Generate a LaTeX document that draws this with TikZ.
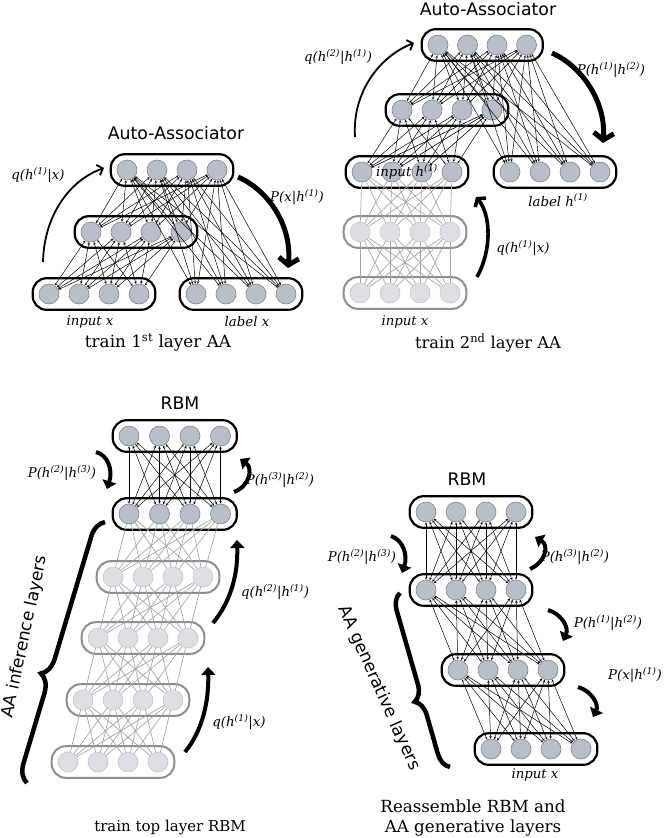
\documentclass[tikz,border=0pt]{standalone}
\usepackage{fontspec}
\setmainfont{DejaVu Serif}
\setsansfont{DejaVu Sans}
\usetikzlibrary{arrows.meta,fit,decorations.pathreplacing}
\definecolor{unitfill}{HTML}{B9BECB}
\definecolor{unitdraw}{HTML}{7F838C}
\definecolor{lunitfill}{HTML}{DDDFE5}
\definecolor{lunitdraw}{HTML}{C4C6CC}
\definecolor{lboxdraw}{HTML}{8E8E8E}
\definecolor{lconncol}{HTML}{A4A4A4}
\newcommand\upc[1]{\textsuperscript{(#1)}}
\newcommand\mklayer[6]{%
  \foreach \k in {1,...,4} {\node[#2] (#1\k) at ({#3+(\k-1)*#4},#5) {};}
  \node[#6, fit=(#11)(#14)] (#1box) {};
}
\newcommand\allconn[3]{%
  \foreach \i in {1,...,4} {\foreach \j in {1,...,4} {\draw[#3] (#1\i) -- (#2\j);}}
}
\begin{document}
\begin{tikzpicture}[x=1pt,y=-1pt,
  unit/.style={circle, minimum size=20pt, inner sep=0pt, fill=unitfill, draw=unitdraw, line width=0.6pt},
  lunit/.style={circle, minimum size=20pt, inner sep=0pt, fill=lunitfill, draw=lunitdraw, line width=0.6pt},
  layerbox/.style={draw=black, line width=2.2pt, rounded corners=14pt, inner xsep=6pt, inner ysep=5.5pt},
  llayerbox/.style={draw=lboxdraw, line width=2pt, rounded corners=14pt, inner xsep=6pt, inner ysep=5.5pt},
  conn/.style={black, line width=0.5pt, {Stealth[open,length=2.6pt,width=2.6pt]}-{Stealth[open,length=2.6pt,width=2.6pt]}},
  lconn/.style={lconncol, line width=0.65pt},
  thinarr/.style={line width=1.8pt, -{Straight Barb[length=5pt,width=11pt]}},
  thickarr/.style={line width=5pt, -{Straight Barb[length=7pt,width=20pt]}},
  midarr/.style={line width=3.6pt, -{Straight Barb[length=5pt,width=14pt]}},
  rbmarr/.style={line width=4pt, -{Triangle[length=8pt,width=14pt]}},
  bracest/.style={line width=4.5pt, decorate},
  title/.style={font=\sffamily\fontsize{17.3}{19}\selectfont},
  caption/.style={align=center},
  lab/.style={font=\fontsize{13.3}{15}\selectfont\itshape},
  side/.style={font=\sffamily\fontsize{17}{19}\selectfont}
]
\useasboundingbox (0,0) rectangle (664,838);
\fill[white] (0,0) rectangle (664,838);

% ---------------- Panel 1 ----------------
\mklayer{pat}{unit}{127}{30}{170}{layerbox}
\mklayer{pam}{unit}{91}{30}{232}{layerbox}
\mklayer{pai}{unit}{49}{30}{294}{layerbox}
\mklayer{pal}{unit}{196}{30}{294}{layerbox}
\allconn{pat}{pam}{conn}
\allconn{pam}{pai}{conn}
\allconn{pat}{pal}{conn}
\node[title] (t1) at (176,133) {Auto-Associator};
\node[lab] (l1a) at (90,322) {input x};
\node[lab] (l1b) at (247,322) {label x};
\node[caption, font=\fontsize{16.8}{19}\selectfont] (c1) at (158,342) {train 1\textsuperscript{st} layer AA};
\node[lab] (l1q) at (38,175) {q(h\upc{1}|x)};
\node[lab] (l1p) at (297,197) {P(x|h\upc{1})};
\coordinate (q1s) at (43,262); \coordinate (q1e) at (104,168);
\draw[thinarr] (q1s) .. controls (44,215) and (70,180) .. (q1e);
\coordinate (p1s) at (238,177); \coordinate (p1e) at (288,268);
\draw[thickarr] (p1s) .. controls (268,190) and (292,225) .. (p1e);

% ---------------- Panel 2 ----------------
\mklayer{pbt}{unit}{438}{29.5}{45}{layerbox}
\mklayer{pbm}{unit}{402}{30}{110}{layerbox}
\mklayer{pbi}{unit}{362}{30}{172}{layerbox}
\mklayer{pbl}{unit}{510}{30}{172}{layerbox}
\mklayer{pba}{lunit}{360}{30}{232}{llayerbox}
\mklayer{pbb}{lunit}{360}{30}{293}{llayerbox}
\allconn{pbi}{pba}{lconn}
\allconn{pba}{pbb}{lconn}
\foreach \i in {1,2,3} {\draw[lconn, line width=0.5pt] (pbi\i) -- (pbm4);}
\allconn{pbt}{pbm}{conn}
\allconn{pbm}{pbi}{conn}
\allconn{pbt}{pbl}{conn}
\node[title] (t2) at (488,9) {Auto-Associator};
\node[lab] (l2i) at (407,172) {input h\upc{1}};
\node[lab] (l2l) at (558,200) {label h\upc{1}};
\node[lab] (l2x) at (405,322) {input x};
\node[caption, font=\fontsize{16.3}{19}\selectfont] (c2) at (488,343) {train 2\textsuperscript{nd} layer AA};
\node[lab] (l2q) at (338,57) {q(h\upc{2}|h\upc{1})};
\node[lab] (l2p) at (611,70) {P(h\upc{1}|h\upc{2})};
\node[lab] (l2q1) at (523,248) {q(h\upc{1}|x)};
\coordinate (q2s) at (355,137); \coordinate (q2e) at (414,43);
\draw[thinarr] (q2s) .. controls (352,92) and (380,56) .. (q2e);
\coordinate (p2s) at (552,53); \coordinate (p2e) at (603,143);
\draw[thickarr] (p2s) .. controls (585,68) and (606,105) .. (p2e);
\coordinate (q3s) at (477,277); \coordinate (q3e) at (476,197);
\draw[midarr] (q3s) .. controls (492,250) and (491,215) .. (q3e);

% ---------------- Panel 3 ----------------
\mklayer{pct}{unit}{129}{30.5}{436}{layerbox}
\mklayer{pch}{unit}{129}{30.5}{514}{layerbox}
\mklayer{pca}{lunit}{113}{30}{577}{llayerbox}
\mklayer{pcb}{lunit}{98}{30}{638}{llayerbox}
\mklayer{pcc}{lunit}{83}{30}{700}{llayerbox}
\mklayer{pcd}{lunit}{68}{30}{762}{llayerbox}
\allconn{pch}{pca}{lconn}
\allconn{pca}{pcb}{lconn}
\allconn{pcb}{pcc}{lconn}
\allconn{pcc}{pcd}{lconn}
\allconn{pct}{pch}{conn}
\node[title] (t3) at (180,403) {RBM};
\node[lab] (l3a) at (62,473) {P(h\upc{2}|h\upc{3})};
\node[lab] (l3b) at (280,480) {P(h\upc{3}|h\upc{2})};
\node[lab] (l3c) at (275,592) {q(h\upc{2}|h\upc{1})};
\node[lab] (l3d) at (239,722) {q(h\upc{1}|x)};
\node[caption, font=\fontsize{15}{18}\selectfont] (c3) at (170,827) {train top layer RBM};
\node[side, rotate=78] (s3) at (25,637) {AA inference layers};
\coordinate (r3as) at (96,452); \coordinate (r3ae) at (107,489);
\draw[rbmarr] (r3as) .. controls (108,455) and (113,470) .. (r3ae);
\coordinate (r3bs) at (234,492); \coordinate (r3be) at (240,459);
\draw[rbmarr] (r3bs) .. controls (250,486) and (253,468) .. (r3be);
\coordinate (r3cs) at (213,623); \coordinate (r3ce) at (237,540);
\draw[rbmarr] (r3cs) .. controls (232,600) and (238,572) .. (r3ce);
\coordinate (r3ds) at (185,752); \coordinate (r3de) at (208,667);
\draw[rbmarr] (r3ds) .. controls (203,730) and (209,700) .. (r3de);
\coordinate (b3s) at (27,783); \coordinate (b3e) at (105,522);
\draw[bracest, decoration={brace, amplitude=18pt, aspect=0.4}] (b3s) -- (b3e);

% ---------------- Panel 4 ----------------
\mklayer{pdt}{unit}{426}{30}{512}{layerbox}
\mklayer{pdh}{unit}{426}{30}{590}{layerbox}
\mklayer{pdm}{unit}{458}{30}{670}{layerbox}
\mklayer{pdi}{unit}{491}{30}{749}{layerbox}
\allconn{pdt}{pdh}{conn}
\allconn{pdh}{pdm}{conn}
\allconn{pdm}{pdi}{conn}
\node[title] (t4) at (467,479) {RBM};
\node[lab] (l4a) at (362,557) {P(h\upc{2}|h\upc{3})};
\node[lab] (l4b) at (575,557) {P(h\upc{3}|h\upc{2})};
\node[lab] (l4c) at (608,623) {P(h\upc{1}|h\upc{2})};
\node[lab] (l4d) at (635,675) {P(x|h\upc{1})};
\node[lab] (l4x) at (535,775) {input x};
\node[caption, font=\fontsize{16.7}{20}\selectfont] (c4) at (473,818) {Reassemble RBM and\\AA generative layers};
\node[side, rotate=-66] (s4) at (379,688) {AA generative layers};
\coordinate (r4as) at (391,536); \coordinate (r4ae) at (402,573);
\draw[rbmarr] (r4as) .. controls (403,540) and (408,555) .. (r4ae);
\coordinate (r4bs) at (530,569); \coordinate (r4be) at (535,537);
\draw[rbmarr] (r4bs) .. controls (546,562) and (549,545) .. (r4be);
\coordinate (r4cs) at (548,610); \coordinate (r4ce) at (563,641);
\draw[rbmarr] (r4cs) .. controls (562,614) and (569,628) .. (r4ce);
\coordinate (r4ds) at (578,687); \coordinate (r4de) at (593,717);
\draw[rbmarr] (r4ds) .. controls (592,691) and (599,705) .. (r4de);
\coordinate (b4s) at (450,767); \coordinate (b4e) at (400,593);
\draw[bracest, decoration={brace, amplitude=16pt, aspect=0.4}] (b4s) -- (b4e);
\end{tikzpicture}
\end{document}
